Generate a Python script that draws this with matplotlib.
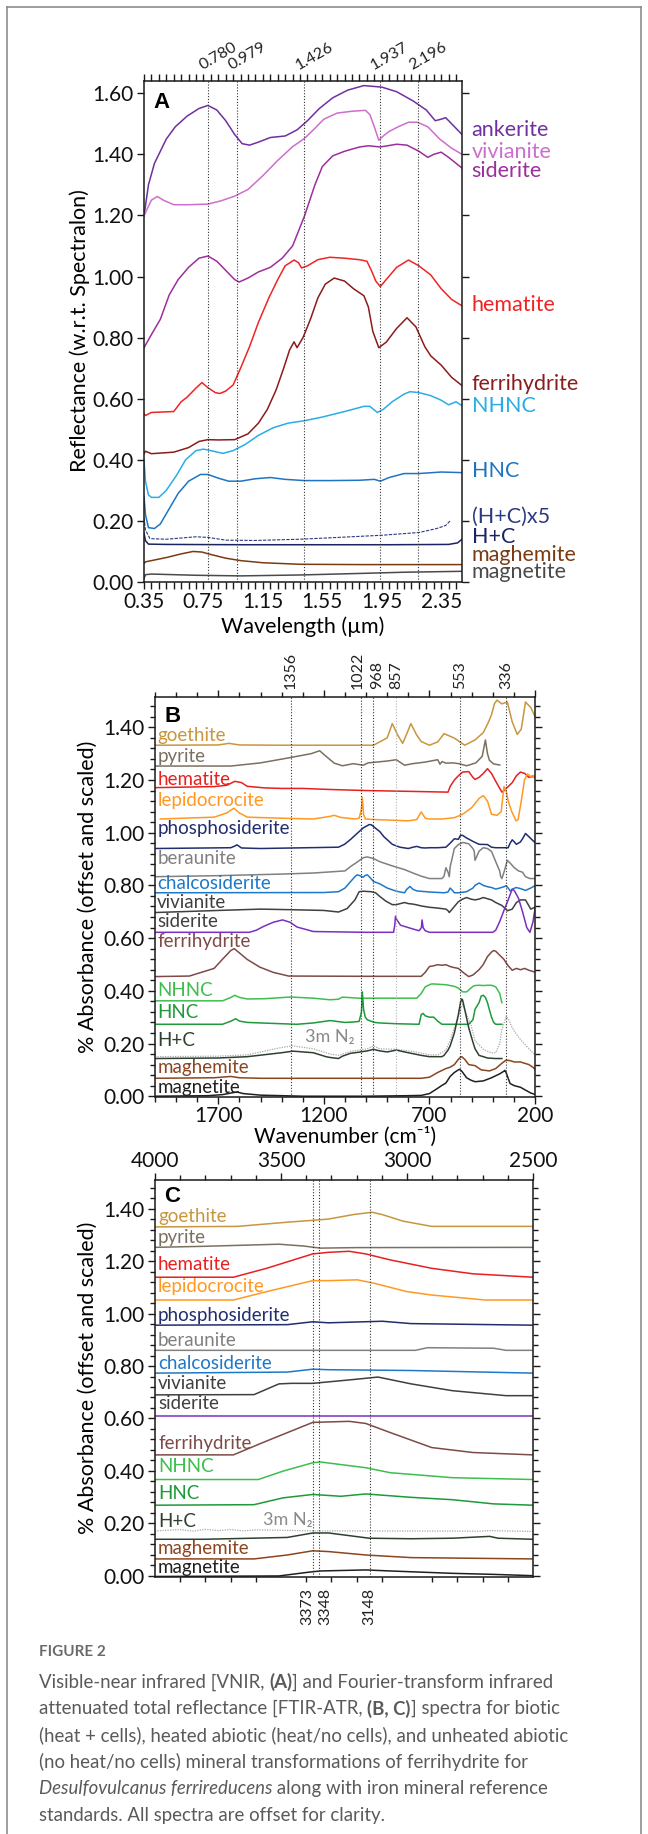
import matplotlib
matplotlib.use('Agg')
import matplotlib.pyplot as plt
from matplotlib.ticker import MultipleLocator, FixedLocator
import matplotlib.transforms as mtrans

plt.rcParams['font.family'] = ['Lato', 'DejaVu Sans']

W, H = 648, 1834

# ---------------- panel A: VNIR reflectance ----------------
ank_x = [0.35, 0.38, 0.42, 0.50, 0.56, 0.64, 0.72, 0.78, 0.84, 0.90, 0.96, 1.01, 1.06, 1.12, 1.20, 1.30,
         1.38, 1.45, 1.53, 1.62, 1.72, 1.83, 1.95, 2.05, 2.16, 2.25, 2.31, 2.35, 2.38, 2.42, 2.49]
ank_y = [1.198, 1.30, 1.37, 1.45, 1.49, 1.525, 1.55, 1.56, 1.545, 1.51, 1.465, 1.435, 1.43, 1.44, 1.455, 1.46,
         1.48, 1.51, 1.55, 1.585, 1.61, 1.625, 1.62, 1.605, 1.575, 1.545, 1.51, 1.515, 1.52, 1.50, 1.465]
viv_x = [0.35, 0.37, 0.40, 0.44, 0.48, 0.55, 0.65, 0.78, 0.87, 0.96, 1.05, 1.15, 1.25, 1.35, 1.43, 1.50,
         1.56, 1.65, 1.75, 1.84, 1.87, 1.90, 1.93, 1.96, 2.00, 2.06, 2.13, 2.19, 2.26, 2.34, 2.42, 2.49]
viv_y = [1.198, 1.22, 1.25, 1.262, 1.25, 1.235, 1.235, 1.237, 1.248, 1.263, 1.285, 1.33, 1.38, 1.425, 1.452, 1.485,
         1.515, 1.535, 1.541, 1.544, 1.53, 1.49, 1.446, 1.46, 1.475, 1.49, 1.505, 1.505, 1.49, 1.45, 1.42, 1.40]
sid_x = [0.35, 0.40, 0.46, 0.52, 0.58, 0.65, 0.72, 0.78, 0.84, 0.90, 0.96, 0.99, 1.05, 1.12, 1.20, 1.28, 1.35,
         1.43, 1.50, 1.55, 1.62, 1.70, 1.80, 1.86, 1.94, 2.05, 2.12, 2.20, 2.26, 2.30, 2.35, 2.40, 2.49]
sid_y = [0.767, 0.81, 0.86, 0.94, 0.99, 1.03, 1.06, 1.067, 1.05, 1.02, 0.99, 0.982, 0.995, 1.015, 1.03, 1.06, 1.10,
         1.198, 1.30, 1.36, 1.395, 1.41, 1.424, 1.428, 1.424, 1.433, 1.43, 1.41, 1.39, 1.40, 1.407, 1.39, 1.355]
hem_x = [0.35, 0.36, 0.40, 0.55, 0.60, 0.64, 0.70, 0.74, 0.78, 0.83, 0.86, 0.90, 0.95, 1.00, 1.06, 1.12, 1.19,
         1.25, 1.30, 1.36, 1.39, 1.41, 1.45, 1.52, 1.60, 1.70, 1.80, 1.85, 1.88, 1.91, 1.94, 1.98, 2.05, 2.13,
         2.20, 2.28, 2.35, 2.42, 2.49]
hem_y = [0.551, 0.545, 0.555, 0.558, 0.59, 0.605, 0.635, 0.653, 0.636, 0.62, 0.617, 0.625, 0.645, 0.70, 0.77, 0.85,
         0.93, 0.99, 1.035, 1.054, 1.045, 1.028, 1.035, 1.055, 1.063, 1.06, 1.055, 1.05, 1.02, 0.985, 0.967, 0.99,
         1.03, 1.054, 1.035, 1.005, 0.96, 0.925, 0.904]
fer_x = [0.35, 0.36, 0.40, 0.55, 0.65, 0.72, 0.78, 0.85, 0.96, 1.05, 1.12, 1.18, 1.24, 1.29, 1.33, 1.36, 1.38,
         1.42, 1.47, 1.52, 1.57, 1.63, 1.70, 1.76, 1.83, 1.86, 1.89, 1.93, 1.98, 2.05, 2.12, 2.18, 2.24, 2.28,
         2.35, 2.42, 2.49]
fer_y = [0.42, 0.428, 0.42, 0.425, 0.44, 0.46, 0.466, 0.465, 0.466, 0.485, 0.52, 0.565, 0.63, 0.70, 0.76, 0.786,
         0.767, 0.80, 0.86, 0.93, 0.975, 0.995, 0.985, 0.96, 0.937, 0.90, 0.82, 0.767, 0.785, 0.83, 0.865, 0.835,
         0.77, 0.74, 0.71, 0.67, 0.643]
nhnc_x = [0.35, 0.36, 0.38, 0.40, 0.45, 0.50, 0.57, 0.63, 0.70, 0.75, 0.80, 0.88, 0.95, 1.03, 1.12, 1.22, 1.32,
          1.43, 1.55, 1.70, 1.83, 1.87, 1.92, 1.96, 2.02, 2.10, 2.14, 2.20, 2.28, 2.35, 2.40, 2.45, 2.49]
nhnc_y = [0.40, 0.33, 0.285, 0.277, 0.277, 0.30, 0.35, 0.40, 0.43, 0.435, 0.43, 0.421, 0.43, 0.45, 0.48, 0.505,
          0.52, 0.528, 0.54, 0.558, 0.575, 0.575, 0.555, 0.565, 0.59, 0.615, 0.623, 0.62, 0.61, 0.595, 0.58,
          0.59, 0.577]
hnc_x = [0.35, 0.36, 0.38, 0.42, 0.46, 0.52, 0.58, 0.65, 0.73, 0.78, 0.85, 0.92, 1.00, 1.10, 1.20, 1.30, 1.43,
         1.60, 1.80, 1.90, 1.94, 2.00, 2.10, 2.20, 2.35, 2.49]
hnc_y = [0.28, 0.22, 0.178, 0.175, 0.19, 0.24, 0.29, 0.33, 0.352, 0.352, 0.34, 0.33, 0.33, 0.338, 0.342, 0.336,
         0.332, 0.332, 0.333, 0.336, 0.33, 0.342, 0.355, 0.355, 0.36, 0.358]
hc5_x = [0.35, 0.36, 0.39, 0.50, 0.70, 0.78, 0.90, 1.10, 1.40, 1.70, 1.95, 2.20, 2.32, 2.38, 2.41]
hc5_y = [0.21, 0.17, 0.142, 0.14, 0.148, 0.146, 0.137, 0.136, 0.14, 0.147, 0.153, 0.162, 0.175, 0.185, 0.20]
hc_x = [0.35, 0.36, 0.38, 0.50, 1.00, 1.50, 2.00, 2.40, 2.46, 2.49]
hc_y = [0.16, 0.135, 0.124, 0.123, 0.122, 0.122, 0.122, 0.123, 0.128, 0.14]
mgh_x = [0.35, 0.36, 0.42, 0.50, 0.60, 0.68, 0.74, 0.80, 0.90, 1.00, 1.15, 1.40, 1.80, 2.49]
mgh_y = [0.061, 0.066, 0.072, 0.08, 0.092, 0.10, 0.098, 0.09, 0.078, 0.07, 0.063, 0.058, 0.057, 0.057]
mgt_x = [0.35, 0.36, 0.40, 0.70, 1.00, 1.40, 1.80, 2.10, 2.49]
mgt_y = [0.012, 0.024, 0.026, 0.022, 0.02, 0.023, 0.028, 0.032, 0.035]

a_names = ['ankerite', 'vivianite', 'siderite', 'hematite', 'ferrihydrite', 'NHNC', 'HNC',
           '(H+C)x5', 'H+C', 'maghemite', 'magnetite']
a_colors = ['#7030A0', '#CC6FCC', '#9B2F9B', '#F02424', '#8B1C1C', '#2AADE6', '#1F74C4',
            '#2B3A80', '#1B2363', '#7A3B12', '#4A4A4A']
a_label_y = [1.478, 1.407, 1.344, 0.908, 0.649, 0.577, 0.362, 0.214, 0.146, 0.0895, 0.034]
a_lines = [0.780, 0.979, 1.426, 1.937, 2.196]

# ---------------- panel B: FTIR 2000-200 ----------------
goe_bx = [2000, 1700, 1650, 1600, 1400, 1000, 965, 900, 876, 850, 827, 810, 788, 760, 739, 700, 660, 631, 582,
          533, 484, 445, 420, 406, 392, 380, 357, 331, 308, 284, 265, 245, 220, 200]
goe_by = [1.332, 1.333, 1.339, 1.333, 1.332, 1.332, 1.332, 1.36, 1.414, 1.37, 1.339, 1.37, 1.414, 1.37, 1.346,
          1.332, 1.345, 1.376, 1.359, 1.332, 1.352, 1.38, 1.42, 1.448, 1.49, 1.503, 1.489, 1.496, 1.421, 1.373,
          1.393, 1.496, 1.475, 1.441]
pyr_bx = [2000, 1641, 1500, 1367, 1260, 1220, 1190, 1151, 1112, 1060, 1014, 990, 900, 857, 818, 780, 720, 661,
          650, 640, 622, 590, 560, 524, 480, 450, 435, 425, 416, 396, 367]
pyr_by = [1.253, 1.253, 1.265, 1.284, 1.30, 1.311, 1.29, 1.264, 1.254, 1.262, 1.256, 1.265, 1.272, 1.277, 1.256,
          1.262, 1.268, 1.277, 1.26, 1.27, 1.264, 1.265, 1.262, 1.254, 1.265, 1.29, 1.352, 1.30, 1.275, 1.261, 1.257]
hem_bx = [2000, 1720, 1660, 1622, 1590, 1563, 1480, 1400, 1300, 1171, 1000, 800, 612, 602, 582, 563, 543, 514,
          494, 484, 465, 445, 425, 406, 386, 357, 347, 327, 308, 288, 269, 249, 229, 210, 200]
hem_by = [1.171, 1.175, 1.18, 1.195, 1.19, 1.176, 1.17, 1.168, 1.168, 1.164, 1.16, 1.157, 1.154, 1.175, 1.20,
          1.216, 1.23, 1.232, 1.21, 1.202, 1.21, 1.225, 1.243, 1.225, 1.195, 1.154, 1.16, 1.175, 1.19, 1.216, 1.23,
          1.225, 1.21, 1.215, 1.209]
lep_bx = [1975, 1720, 1660, 1627, 1600, 1563, 1400, 1250, 1171, 1151, 1120, 1053, 1033, 1022, 1018, 1012, 1004,
          960, 800, 760, 739, 720, 700, 640, 582, 543, 500, 465, 445, 425, 406, 380, 360, 347, 337, 327, 310, 290,
          280, 265, 250, 235, 215, 200]
lep_by = [1.052, 1.059, 1.075, 1.093, 1.075, 1.059, 1.055, 1.052, 1.062, 1.066, 1.058, 1.052, 1.055, 1.09, 1.134,
          1.07, 1.052, 1.05, 1.045, 1.05, 1.079, 1.055, 1.052, 1.052, 1.057, 1.07, 1.095, 1.13, 1.141, 1.12, 1.07,
          1.066, 1.08, 1.175, 1.16, 1.12, 1.08, 1.045, 1.05, 1.12, 1.20, 1.223, 1.21, 1.216]
pho_bx = [2000, 1641, 1620, 1612, 1590, 1500, 1131, 1102, 1073, 1043, 1014, 985, 975, 960, 935, 916, 876, 840,
          800, 778, 760, 739, 720, 700, 661, 622, 602, 582, 563, 553, 543, 524, 494, 465, 425, 406, 386, 327, 318,
          308, 298, 288, 269, 259, 245, 229, 210, 200]
pho_by = [0.94, 0.943, 0.95, 0.954, 0.942, 0.94, 0.945, 0.956, 0.975, 0.997, 1.018, 1.031, 1.03, 1.02, 1.004,
          0.985, 0.956, 0.945, 0.94, 0.945, 0.948, 0.943, 0.942, 0.943, 0.943, 0.945, 0.96, 0.977, 0.975, 0.99,
          0.99, 0.98, 0.967, 0.956, 0.955, 0.945, 0.943, 0.943, 0.96, 0.973, 0.965, 0.956, 0.965, 0.977, 0.997,
          0.985, 0.97, 0.963]
ber_bx = [2000, 1700, 1400, 1250, 1100, 1073, 1043, 1014, 994, 965, 935, 876, 818, 778, 739, 700, 641, 631, 622,
          612, 606, 602, 582, 563, 543, 514, 494, 488, 484, 465, 445, 425, 406, 386, 367, 363, 357, 347, 331, 318,
          298, 278, 259, 245, 224, 200]
ber_by = [0.833, 0.837, 0.843, 0.847, 0.855, 0.872, 0.888, 0.905, 0.908, 0.902, 0.89, 0.874, 0.86, 0.847, 0.835,
          0.826, 0.826, 0.835, 0.867, 0.85, 0.833, 0.87, 0.94, 0.955, 0.963, 0.958, 0.94, 0.93, 0.895, 0.93, 0.943,
          0.94, 0.929, 0.89, 0.854, 0.835, 0.826, 0.85, 0.895, 0.885, 0.867, 0.855, 0.85, 0.833, 0.826, 0.826]
cha_bx = [2000, 1200, 1131, 1100, 1073, 1053, 1043, 1033, 1014, 1004, 994, 984, 965, 935, 900, 857, 818, 808,
          792, 778, 759, 700, 631, 612, 602, 590, 582, 563, 524, 494, 484, 465, 455, 445, 425, 406, 386, 367, 347,
          337, 327, 318, 308, 290, 269, 245, 220, 200]
cha_by = [0.772, 0.773, 0.776, 0.79, 0.815, 0.833, 0.84, 0.838, 0.831, 0.838, 0.84, 0.832, 0.815, 0.806, 0.79,
          0.778, 0.772, 0.785, 0.796, 0.785, 0.779, 0.775, 0.772, 0.775, 0.79, 0.78, 0.772, 0.772, 0.776, 0.79,
          0.8, 0.809, 0.805, 0.8, 0.795, 0.792, 0.786, 0.79, 0.795, 0.799, 0.79, 0.779, 0.785, 0.792, 0.788,
          0.781, 0.79, 0.799]
viv_bx = [2000, 1700, 1500, 1367, 1200, 1131, 1090, 1053, 1033, 1014, 975, 955, 935, 906, 876, 857, 818, 800,
          778, 759, 739, 700, 661, 622, 612, 606, 582, 563, 543, 524, 504, 484, 465, 445, 406, 386, 357, 330, 308,
          288, 269, 245, 220, 200]
viv_by = [0.697, 0.705, 0.71, 0.708, 0.705, 0.699, 0.712, 0.745, 0.776, 0.778, 0.776, 0.772, 0.758, 0.74, 0.727,
          0.727, 0.735, 0.731, 0.729, 0.726, 0.722, 0.717, 0.714, 0.71, 0.704, 0.697, 0.72, 0.738, 0.748, 0.754,
          0.748, 0.745, 0.748, 0.754, 0.745, 0.735, 0.724, 0.704, 0.71, 0.735, 0.745, 0.745, 0.71, 0.717]
sid_bx = [2000, 1553, 1520, 1484, 1440, 1396, 1360, 1327, 1250, 1000, 870, 864, 861, 855, 837, 780, 749, 738,
          735, 730, 720, 700, 400, 386, 367, 347, 327, 308, 298, 278, 259, 239, 224, 210, 200]
sid_by = [0.622, 0.622, 0.63, 0.645, 0.66, 0.669, 0.66, 0.642, 0.625, 0.622, 0.622, 0.65, 0.683, 0.67, 0.649,
          0.635, 0.628, 0.64, 0.669, 0.64, 0.628, 0.622, 0.622, 0.63, 0.663, 0.705, 0.745, 0.786, 0.78, 0.751,
          0.70, 0.64, 0.622, 0.66, 0.71]
fer_bx = [2000, 1837, 1720, 1680, 1641, 1625, 1602, 1563, 1504, 1440, 1367, 1000, 739, 720, 700, 680, 661, 641,
          622, 602, 582, 563, 533, 514, 494, 465, 445, 425, 406, 396, 386, 367, 347, 327, 308, 288, 269, 249, 229, 200]
fer_by = [0.454, 0.456, 0.485, 0.52, 0.553, 0.56, 0.545, 0.519, 0.49, 0.47, 0.456, 0.455, 0.455, 0.47, 0.492,
          0.495, 0.499, 0.497, 0.499, 0.492, 0.488, 0.485, 0.465, 0.454, 0.46, 0.48, 0.5, 0.53, 0.547, 0.553,
          0.55, 0.535, 0.519, 0.495, 0.478, 0.485, 0.48, 0.485, 0.478, 0.471]
nhn_bx = [2000, 1680, 1640, 1622, 1600, 1563, 1480, 1367, 1347, 1250, 1171, 1131, 1112, 1073, 1033, 960, 760,
          739, 720, 700, 690, 680, 661, 622, 602, 582, 563, 543, 524, 504, 494, 484, 465, 445, 425, 406, 386, 367, 357]
nhn_by = [0.362, 0.362, 0.375, 0.383, 0.375, 0.369, 0.37, 0.376, 0.376, 0.372, 0.366, 0.368, 0.376, 0.374, 0.372,
          0.372, 0.372, 0.39, 0.415, 0.423, 0.426, 0.426, 0.425, 0.423, 0.42, 0.417, 0.41, 0.396, 0.396, 0.41,
          0.417, 0.42, 0.421, 0.42, 0.421, 0.421, 0.415, 0.39, 0.355]
hnc_bx = [2000, 1680, 1640, 1618, 1600, 1563, 1400, 1327, 1250, 1171, 1100, 1053, 1033, 1022, 1018, 1012, 1004,
          994, 960, 935, 857, 749, 739, 730, 720, 700, 680, 661, 641, 631, 563, 514, 494, 484, 465, 455, 445, 435,
          425, 416, 406, 396, 386, 367, 357]
hnc_by = [0.273, 0.273, 0.285, 0.294, 0.285, 0.28, 0.275, 0.273, 0.278, 0.287, 0.28, 0.282, 0.284, 0.32, 0.396,
          0.33, 0.30, 0.29, 0.28, 0.278, 0.275, 0.273, 0.31, 0.314, 0.305, 0.30, 0.30, 0.285, 0.273, 0.273, 0.273,
          0.273, 0.29, 0.33, 0.355, 0.38, 0.383, 0.375, 0.355, 0.328, 0.30, 0.28, 0.273, 0.273, 0.273]
hc_bx = [2000, 1700, 1563, 1400, 1347, 1250, 1190, 1171, 1131, 1112, 1073, 1043, 994, 965, 935, 900, 857, 818,
         739, 700, 671, 641, 631, 612, 602, 582, 563, 553, 547, 543, 533, 514, 494, 484, 465, 445, 425, 386, 357]
hc_by = [0.143, 0.145, 0.15, 0.165, 0.171, 0.165, 0.15, 0.147, 0.143, 0.152, 0.163, 0.166, 0.172, 0.178, 0.172,
         0.168, 0.175, 0.168, 0.155, 0.15, 0.15, 0.15, 0.155, 0.175, 0.191, 0.24, 0.31, 0.355, 0.369, 0.365, 0.33,
         0.26, 0.205, 0.18, 0.155, 0.15, 0.145, 0.143, 0.143]
n2_bx = [2000, 1700, 1563, 1400, 1347, 1250, 1171, 1131, 1073, 994, 965, 935, 857, 780, 700, 661, 622, 602, 582,
         563, 553, 543, 524, 504, 484, 445, 406, 386, 367, 357, 337, 327, 308, 288, 269, 249, 229, 210, 200]
n2_by = [0.15, 0.152, 0.157, 0.185, 0.191, 0.18, 0.16, 0.155, 0.17, 0.18, 0.191, 0.18, 0.178, 0.17, 0.157, 0.157,
         0.175, 0.212, 0.26, 0.301, 0.33, 0.348, 0.31, 0.273, 0.21, 0.178, 0.164, 0.165, 0.2, 0.253, 0.301, 0.295,
         0.26, 0.235, 0.215, 0.198, 0.18, 0.165, 0.157]
mgh_bx = [2000, 1720, 1641, 1600, 1500, 1000, 739, 700, 661, 622, 602, 582, 563, 553, 547, 533, 514, 484, 455,
          416, 386, 357, 337, 318, 298, 269, 249, 229, 210, 200]
mgh_by = [0.068, 0.07, 0.075, 0.07, 0.068, 0.068, 0.068, 0.072, 0.09, 0.105, 0.11, 0.12, 0.14, 0.148, 0.15, 0.14,
          0.12, 0.116, 0.10, 0.096, 0.105, 0.125, 0.137, 0.135, 0.13, 0.13, 0.125, 0.12, 0.11, 0.102]
mgt_bx = [2000, 1750, 1680, 1641, 1612, 1582, 1500, 1300, 1000, 800, 739, 700, 661, 641, 622, 602, 582, 563, 557,
          547, 524, 504, 484, 445, 406, 367, 347, 343, 337, 318, 298, 269, 249, 220, 200]
mgt_by = [0.0, 0.002, 0.006, 0.012, 0.016, 0.01, 0.004, 0.0, 0.0, 0.002, 0.003, 0.01, 0.03, 0.041, 0.05, 0.075,
          0.09, 0.1, 0.102, 0.095, 0.07, 0.061, 0.055, 0.058, 0.07, 0.085, 0.095, 0.098, 0.09, 0.048, 0.04, 0.034,
          0.025, 0.012, 0.007]
b_lines = [1356, 1022, 968, 857, 553, 336]

# ---------------- panel C: FTIR 4000-2500 ----------------
goe_cx = [4000, 3672, 3475, 3374, 3311, 3213, 3139, 3098, 3016, 2902, 2500]
goe_cy = [1.331, 1.333, 1.349, 1.356, 1.361, 1.378, 1.387, 1.378, 1.353, 1.333, 1.333]
pyr_cx = [4000, 3803, 3508, 3410, 3344, 3200, 2500]
pyr_cy = [1.253, 1.257, 1.265, 1.258, 1.25, 1.252, 1.253]
hem_cx = [4000, 3689, 3557, 3374, 3311, 3230, 3164, 3066, 2902, 2738, 2500]
hem_cy = [1.139, 1.139, 1.173, 1.228, 1.234, 1.238, 1.228, 1.205, 1.173, 1.152, 1.139]
lep_cx = [4000, 3689, 3557, 3374, 3311, 3197, 3131, 3000, 2902, 2689, 2500]
lep_cy = [1.052, 1.052, 1.084, 1.126, 1.126, 1.129, 1.116, 1.084, 1.071, 1.052, 1.052]
pho_cx = [4000, 3475, 3374, 3311, 3098, 2984, 2500]
pho_cy = [0.956, 0.958, 0.969, 0.965, 0.971, 0.962, 0.956]
ber_cx = [4000, 2967, 2918, 2656, 2607, 2500]
ber_cy = [0.86, 0.86, 0.87, 0.868, 0.86, 0.86]
cha_cx = [4000, 3475, 3374, 3311, 2984, 2500]
cha_cy = [0.773, 0.777, 0.788, 0.786, 0.783, 0.773]
viv_cx = [4000, 3607, 3508, 3459, 3374, 3230, 3115, 2984, 2820, 2607, 2500]
viv_cy = [0.69, 0.691, 0.732, 0.734, 0.734, 0.747, 0.758, 0.732, 0.706, 0.687, 0.687]
sid_cx = [4000, 2500]
sid_cy = [0.608, 0.608]
fer_cx = [4000, 3689, 3557, 3374, 3230, 3164, 3066, 2902, 2738, 2500]
fer_cy = [0.461, 0.461, 0.514, 0.585, 0.589, 0.581, 0.546, 0.489, 0.47, 0.461]
nhn_cx = [4000, 3590, 3492, 3374, 3344, 3164, 3066, 2820, 2500]
nhn_cy = [0.367, 0.367, 0.399, 0.431, 0.434, 0.412, 0.393, 0.374, 0.367]
hnc_cx = [4000, 3607, 3492, 3374, 3262, 3164, 2984, 2820, 2656, 2500]
hnc_cy = [0.269, 0.271, 0.297, 0.31, 0.303, 0.312, 0.299, 0.29, 0.274, 0.269]
hc_cx = [4000, 3803, 3475, 3374, 3311, 3150, 2984, 2820, 2672, 2639, 2500]
hc_cy = [0.139, 0.139, 0.146, 0.163, 0.163, 0.143, 0.141, 0.143, 0.15, 0.143, 0.139]
n2_cx = [4000, 3900, 3850, 3800, 3750, 3700, 3650, 3600, 3374, 2700, 2680, 2500]
n2_cy = [0.171, 0.176, 0.170, 0.177, 0.172, 0.176, 0.171, 0.175, 0.171, 0.170, 0.172, 0.169]
mgh_cx = [4000, 3607, 3475, 3374, 3311, 3164, 2984, 2500]
mgh_cy = [0.064, 0.064, 0.079, 0.095, 0.092, 0.079, 0.069, 0.064]
mgt_cx = [4000, 3508, 3393, 3344, 3164, 3066, 2820, 2656, 2500]
mgt_cy = [-0.003, -0.001, 0.013, 0.018, 0.022, 0.018, 0.009, 0.005, 0.0]
c_lines = [3373, 3348, 3148]

ftir_names = ['goethite', 'pyrite', 'hematite', 'lepidocrocite', 'phosphosiderite', 'beraunite',
              'chalcosiderite', 'vivianite', 'siderite', 'ferrihydrite', 'NHNC', 'HNC', 'H+C', 'maghemite',
              'magnetite']
ftir_colors = ['#C8963E', '#7B7060', '#E82020', '#FF9922', '#222D6E', '#808080', '#1E78C8', '#404040',
               '#7A2FBF', '#7E4A46', '#3DBE4E', '#1E9A3A', '#2F4030', '#8B4520', '#202020']
ftir_label_colors = ['#C8963E', '#7B7060', '#E82020', '#FF9922', '#222D6E', '#808080', '#1E78C8', '#404040',
                     '#404040', '#7E4A46', '#3DBE4E', '#1E9A3A', '#2F4030', '#8B4520', '#202020']
b_label_y = [1.369, 1.291, 1.202, 1.124, 1.015, 0.904, 0.806, 0.734, 0.663, 0.587, 0.403, 0.317, 0.212,
             0.109, 0.034]
c_label_y = [1.372, 1.292, 1.186, 1.103, 0.994, 0.898, 0.809, 0.734, 0.659, 0.504, 0.418, 0.312, 0.207,
             0.105, 0.031]

caption_lines = [
    [("Visible-near infrared [VNIR, ", 'n'), ("(A)", 'b'), ("] and Fourier-transform infrared", 'n')],
    [("attenuated total reflectance [FTIR-ATR, ", 'n'), ("(B, C)", 'b'), ("] spectra for biotic", 'n')],
    [("(heat + cells), heated abiotic (heat/no cells), and unheated abiotic", 'n')],
    [("(no heat/no cells) mineral transformations of ferrihydrite for", 'n')],
    [("Desulfovulcanus ferrireducens", 'i'), (" along with iron mineral reference", 'n')],
    [("standards. All spectra are offset for clarity.", 'n')],
]


def box(l, t, r, b):
    return [l / W, 1 - b / H, (r - l) / W, (b - t) / H]


fig = plt.figure(figsize=(W / 100, H / 100), dpi=100)

# grey frame round the figure
frame_kw = dict(color='#8c8c8c', lw=1.2, transform=fig.transFigure)
fig.add_artist(plt.Line2D([7 / W, 7 / W], [0, 1 - 7 / H], **frame_kw))
fig.add_artist(plt.Line2D([7 / W, 641 / W], [1 - 7 / H, 1 - 7 / H], **frame_kw))
fig.add_artist(plt.Line2D([641 / W, 641 / W], [0, 1 - 7 / H], **frame_kw))

spine_c = '#1a1a1a'
tick_fs = 15
dot = (0, (1, 1.6))
bold_family = ['Liberation Sans', 'DejaVu Sans']


def style_axes(ax):
    for s in ax.spines.values():
        s.set_linewidth(1.1)
        s.set_color(spine_c)
    ax.tick_params(which='both', direction='out', color=spine_c, width=1.0, labelsize=tick_fs,
                   top=True, right=True, labelcolor='#111111', pad=2.5)
    ax.tick_params(which='major', length=5)
    ax.tick_params(which='minor', length=3.5)


# ---- A ----
axA = fig.add_axes(box(144, 81, 462, 582))
style_axes(axA)
a_series = [(ank_x, ank_y), (viv_x, viv_y), (sid_x, sid_y), (hem_x, hem_y), (fer_x, fer_y),
            (nhnc_x, nhnc_y), (hnc_x, hnc_y), (hc5_x, hc5_y), (hc_x, hc_y), (mgh_x, mgh_y), (mgt_x, mgt_y)]
for (xs, ys), c, name in zip(a_series, a_colors, a_names):
    if name == '(H+C)x5':
        axA.plot(xs, ys, color=c, lw=0.8, ls=(0, (3, 1.2)))
    else:
        axA.plot(xs, ys, color=c, lw=1.1)
for v in a_lines:
    axA.axvline(v, color='#333333', lw=0.8, ls=dot)
    axA.annotate('%.3f' % v, xy=(v, 1.0), xycoords=('data', 'axes fraction'), xytext=(-3, 6),
                 textcoords='offset points', rotation=30, rotation_mode='anchor', ha='left', va='bottom',
                 fontsize=11.5, color='#222222')
axA.set_xlim(0.35, 2.49)
axA.set_ylim(0, 1.64)
axA.xaxis.set_major_locator(FixedLocator([0.35, 0.75, 1.15, 1.55, 1.95, 2.35]))
axA.xaxis.set_minor_locator(FixedLocator([0.35 + 0.05 * i for i in range(43)]))
axA.yaxis.set_major_locator(MultipleLocator(0.2))
axA.yaxis.set_major_formatter('{x:.2f}')
axA.xaxis.set_major_formatter('{x:.2f}')
axA.tick_params(axis='x', which='minor', top=True, length=5)
trA = mtrans.blended_transform_factory(axA.transAxes, axA.transData)
for name, c, yl in zip(a_names, a_colors, a_label_y):
    axA.text(1.03, yl, name, transform=trA, color=c, fontsize=15.5, ha='left', va='center', clip_on=False)
axA.text(0.03, 0.978, 'A', transform=axA.transAxes, fontsize=16, fontweight='bold', ha='left', va='top',
         family=bold_family)
fig.text(303 / W, 1 - 627 / H, 'Wavelength (\u00b5m)', ha='center', va='center', fontsize=15.5)
fig.text(80 / W, 1 - 331 / H, 'Reflectance (w.r.t. Spectralon)', ha='center', va='center', fontsize=15.5,
         rotation=90)

# ---- B ----
axB = fig.add_axes(box(155, 697, 535, 1097))
style_axes(axB)
b_series = [(goe_bx, goe_by), (pyr_bx, pyr_by), (hem_bx, hem_by), (lep_bx, lep_by), (pho_bx, pho_by),
            (ber_bx, ber_by), (cha_bx, cha_by), (viv_bx, viv_by), (sid_bx, sid_by), (fer_bx, fer_by),
            (nhn_bx, nhn_by), (hnc_bx, hnc_by), (hc_bx, hc_by), (mgh_bx, mgh_by), (mgt_bx, mgt_by)]
axB.plot(n2_bx, n2_by, color='#A8A8A8', lw=0.9, ls=(0, (1, 1)))
for (xs, ys), c in zip(b_series, ftir_colors):
    axB.plot(xs, ys, color=c, lw=1.1)
for v in b_lines:
    lc = '#b0b0b0' if v == 857 else '#333333'
    axB.axvline(v, color=lc, lw=0.8, ls=dot)
b_offsets = {1356: 0, 1022: -3, 968: 3, 857: 0, 553: 0, 336: 0}
for v in b_lines:
    axB.annotate(str(v), xy=(v, 1.0), xycoords=('data', 'axes fraction'), xytext=(b_offsets[v], 6),
                 textcoords='offset points', rotation=90, ha='center', va='bottom', fontsize=11.5,
                 color='#222222')
axB.set_xlim(2000, 200)
axB.set_ylim(-0.003, 1.515)
axB.xaxis.set_major_locator(FixedLocator([1700, 1200, 700, 200]))
axB.xaxis.set_minor_locator(MultipleLocator(100))
axB.yaxis.set_major_locator(MultipleLocator(0.2))
axB.yaxis.set_minor_locator(MultipleLocator(0.04))
axB.yaxis.set_major_formatter('{x:.2f}')
axB.tick_params(axis='x', which='major', pad=1.5)
trB = mtrans.blended_transform_factory(axB.transAxes, axB.transData)
for name, c, yl in zip(ftir_names, ftir_label_colors, b_label_y):
    axB.text(0.006, yl, name, transform=trB, color=c, fontsize=13.5, ha='left', va='center')
axB.text(1171, 0.225, '3m N\u2082', color='#8a8a8a', fontsize=13, ha='center', va='center')
axB.text(0.025, 0.978, 'B', transform=axB.transAxes, fontsize=16, fontweight='bold', ha='left', va='top',
         family=bold_family)
fig.text(345 / W, 1 - 1137 / H, 'Wavenumber (cm\u207b\u00b9)', ha='center', va='center', fontsize=15)
fig.text(88 / W, 1 - 897 / H, '% Absorbance (offset and scaled)', ha='center', va='center', fontsize=15.5,
         rotation=90)

# ---- C ----
axC = fig.add_axes(box(155, 1180, 533, 1577))
style_axes(axC)
c_series = [(goe_cx, goe_cy), (pyr_cx, pyr_cy), (hem_cx, hem_cy), (lep_cx, lep_cy), (pho_cx, pho_cy),
            (ber_cx, ber_cy), (cha_cx, cha_cy), (viv_cx, viv_cy), (sid_cx, sid_cy), (fer_cx, fer_cy),
            (nhn_cx, nhn_cy), (hnc_cx, hnc_cy), (hc_cx, hc_cy), (mgh_cx, mgh_cy), (mgt_cx, mgt_cy)]
axC.plot(n2_cx, n2_cy, color='#A8A8A8', lw=0.9, ls=(0, (1, 1)))
for (xs, ys), c in zip(c_series, ftir_colors):
    axC.plot(xs, ys, color=c, lw=1.1)
for v in c_lines:
    axC.axvline(v, color='#333333', lw=0.8, ls=dot)
c_offsets = {3373: -4, 3348: 4, 3148: 0}
for v in c_lines:
    axC.annotate(str(v), xy=(v, 0.0), xycoords=('data', 'axes fraction'), xytext=(c_offsets[v], -8),
                 textcoords='offset points', rotation=90, ha='center', va='top', fontsize=11.5, color='#222222')
axC.set_xlim(4000, 2500)
axC.set_ylim(-0.005, 1.51)
axC.xaxis.set_major_locator(FixedLocator([4000, 3500, 3000, 2500]))
axC.xaxis.set_minor_locator(MultipleLocator(100))
axC.yaxis.set_major_locator(MultipleLocator(0.2))
axC.yaxis.set_minor_locator(MultipleLocator(0.04))
axC.yaxis.set_major_formatter('{x:.2f}')
axC.tick_params(axis='x', which='both', labeltop=True, labelbottom=False, pad=1.5)
axC.tick_params(axis='x', which='major', bottom=False)
trC = mtrans.blended_transform_factory(axC.transAxes, axC.transData)
for name, c, yl in zip(ftir_names, ftir_label_colors, c_label_y):
    axC.text(0.008, yl, name, transform=trC, color=c, fontsize=13.5, ha='left', va='center')
axC.text(3475, 0.214, '3m N\u2082', color='#8a8a8a', fontsize=13, ha='center', va='center')
axC.text(0.025, 0.985, 'C', transform=axC.transAxes, fontsize=16, fontweight='bold', ha='left', va='top',
         family=bold_family)
fig.text(88 / W, 1 - 1378 / H, '% Absorbance (offset and scaled)', ha='center', va='center', fontsize=15.5,
         rotation=90)

# ---- caption ----
fig.text(39 / W, 1 - 1652 / H, 'FIGURE 2', fontsize=11, color='#6a6a6a', fontweight='bold', va='center')
renderer = fig.canvas.get_renderer()
cap_kw = {'n': dict(), 'b': dict(fontweight='bold'), 'i': dict(fontstyle='italic')}
for i, runs in enumerate(caption_lines):
    x = 39
    y = 1 - (1682 + 26.6 * i) / H
    for txt, st in runs:
        t = fig.text(x / W, y, txt, fontsize=13.4, color='#5a5a5a', va='center', ha='left', **cap_kw[st])
        x += t.get_window_extent(renderer).width

fig.savefig('out.png', dpi=100)
